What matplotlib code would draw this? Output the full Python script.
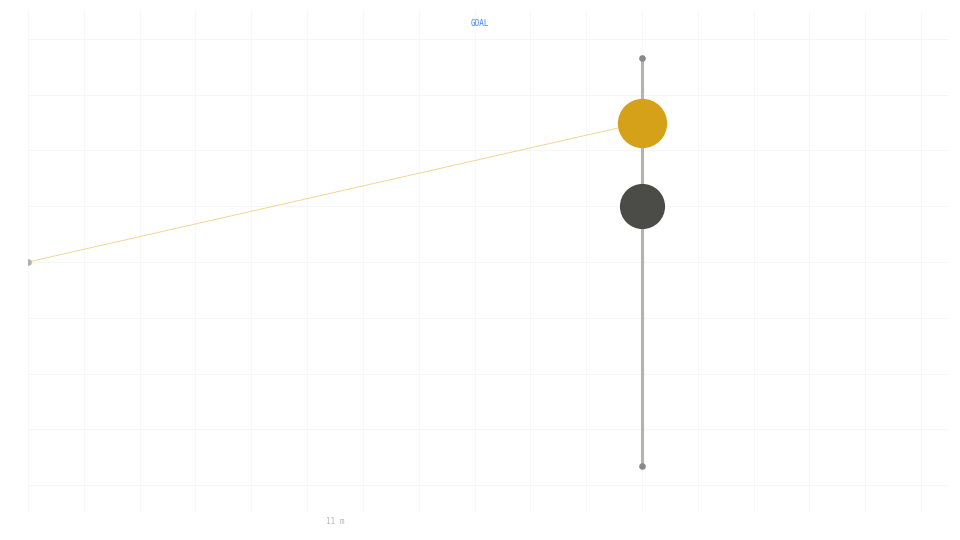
import matplotlib
matplotlib.use('Agg')
import matplotlib.pyplot as plt

# positions in grid units (1 unit = one grid cell)
origin_x, origin_y = 0.0, 4.0
target_x, target_y = 11.0, 1.5
mean_x, mean_y = 11.0, 3.0
range_low, range_high = 0.35, 7.65

grid_x = list(range(0, 17))
grid_y = list(range(0, 9))

fig = plt.figure(figsize=(9.6, 5.4), dpi=100)
ax = fig.add_axes([28 / 960, 1 - 513 / 540, 921 / 960, 502 / 540])
ax.set_xlim(0, 16.5)
ax.set_ylim(8.5, -0.5)
ax.axis('off')

# faint grid
for gx in grid_x:
    ax.plot([gx, gx], [-0.5, 8.5], color='#f7f7f7', lw=0.6, zorder=0)
for gy in grid_y:
    ax.plot([0, 16.5], [gy, gy], color='#f5f5f5', lw=0.6, zorder=0)

# range bar
ax.plot([mean_x, mean_x], [range_low, range_high], color='#b5b3ae', lw=2.2, zorder=1,
        solid_capstyle='butt')
ax.plot([mean_x, mean_x], [range_low, range_high], 'o', color='#8a8985', ms=4.8,
        mec='none', zorder=2)

# line from origin to target
ax.plot([origin_x, target_x], [origin_y, target_y], color='#ecc060', lw=0.6,
        alpha=0.75, zorder=1)
ax.plot([origin_x], [origin_y], 'o', color='#b0b0b0', ms=4.8, mec='none', zorder=2)

ax.plot([mean_x], [mean_y], 'o', color='#4b4c47', ms=32.5, mec='none', zorder=3)
ax.plot([target_x], [target_y], 'o', color='#d4a118', ms=35.5, mec='none', zorder=4)

fig.text(480 / 960, 1 - 24 / 540, 'GOAL', color='#3b82f6', fontsize=5.5,
         family='DejaVu Sans Mono', ha='center', va='center')
fig.text(335 / 960, 1 - 521 / 540, '11 m', color='#b5b5b5', fontsize=5.5,
         family='DejaVu Sans Mono', ha='center', va='center')

fig.savefig('out.png', dpi=100, facecolor='white')
